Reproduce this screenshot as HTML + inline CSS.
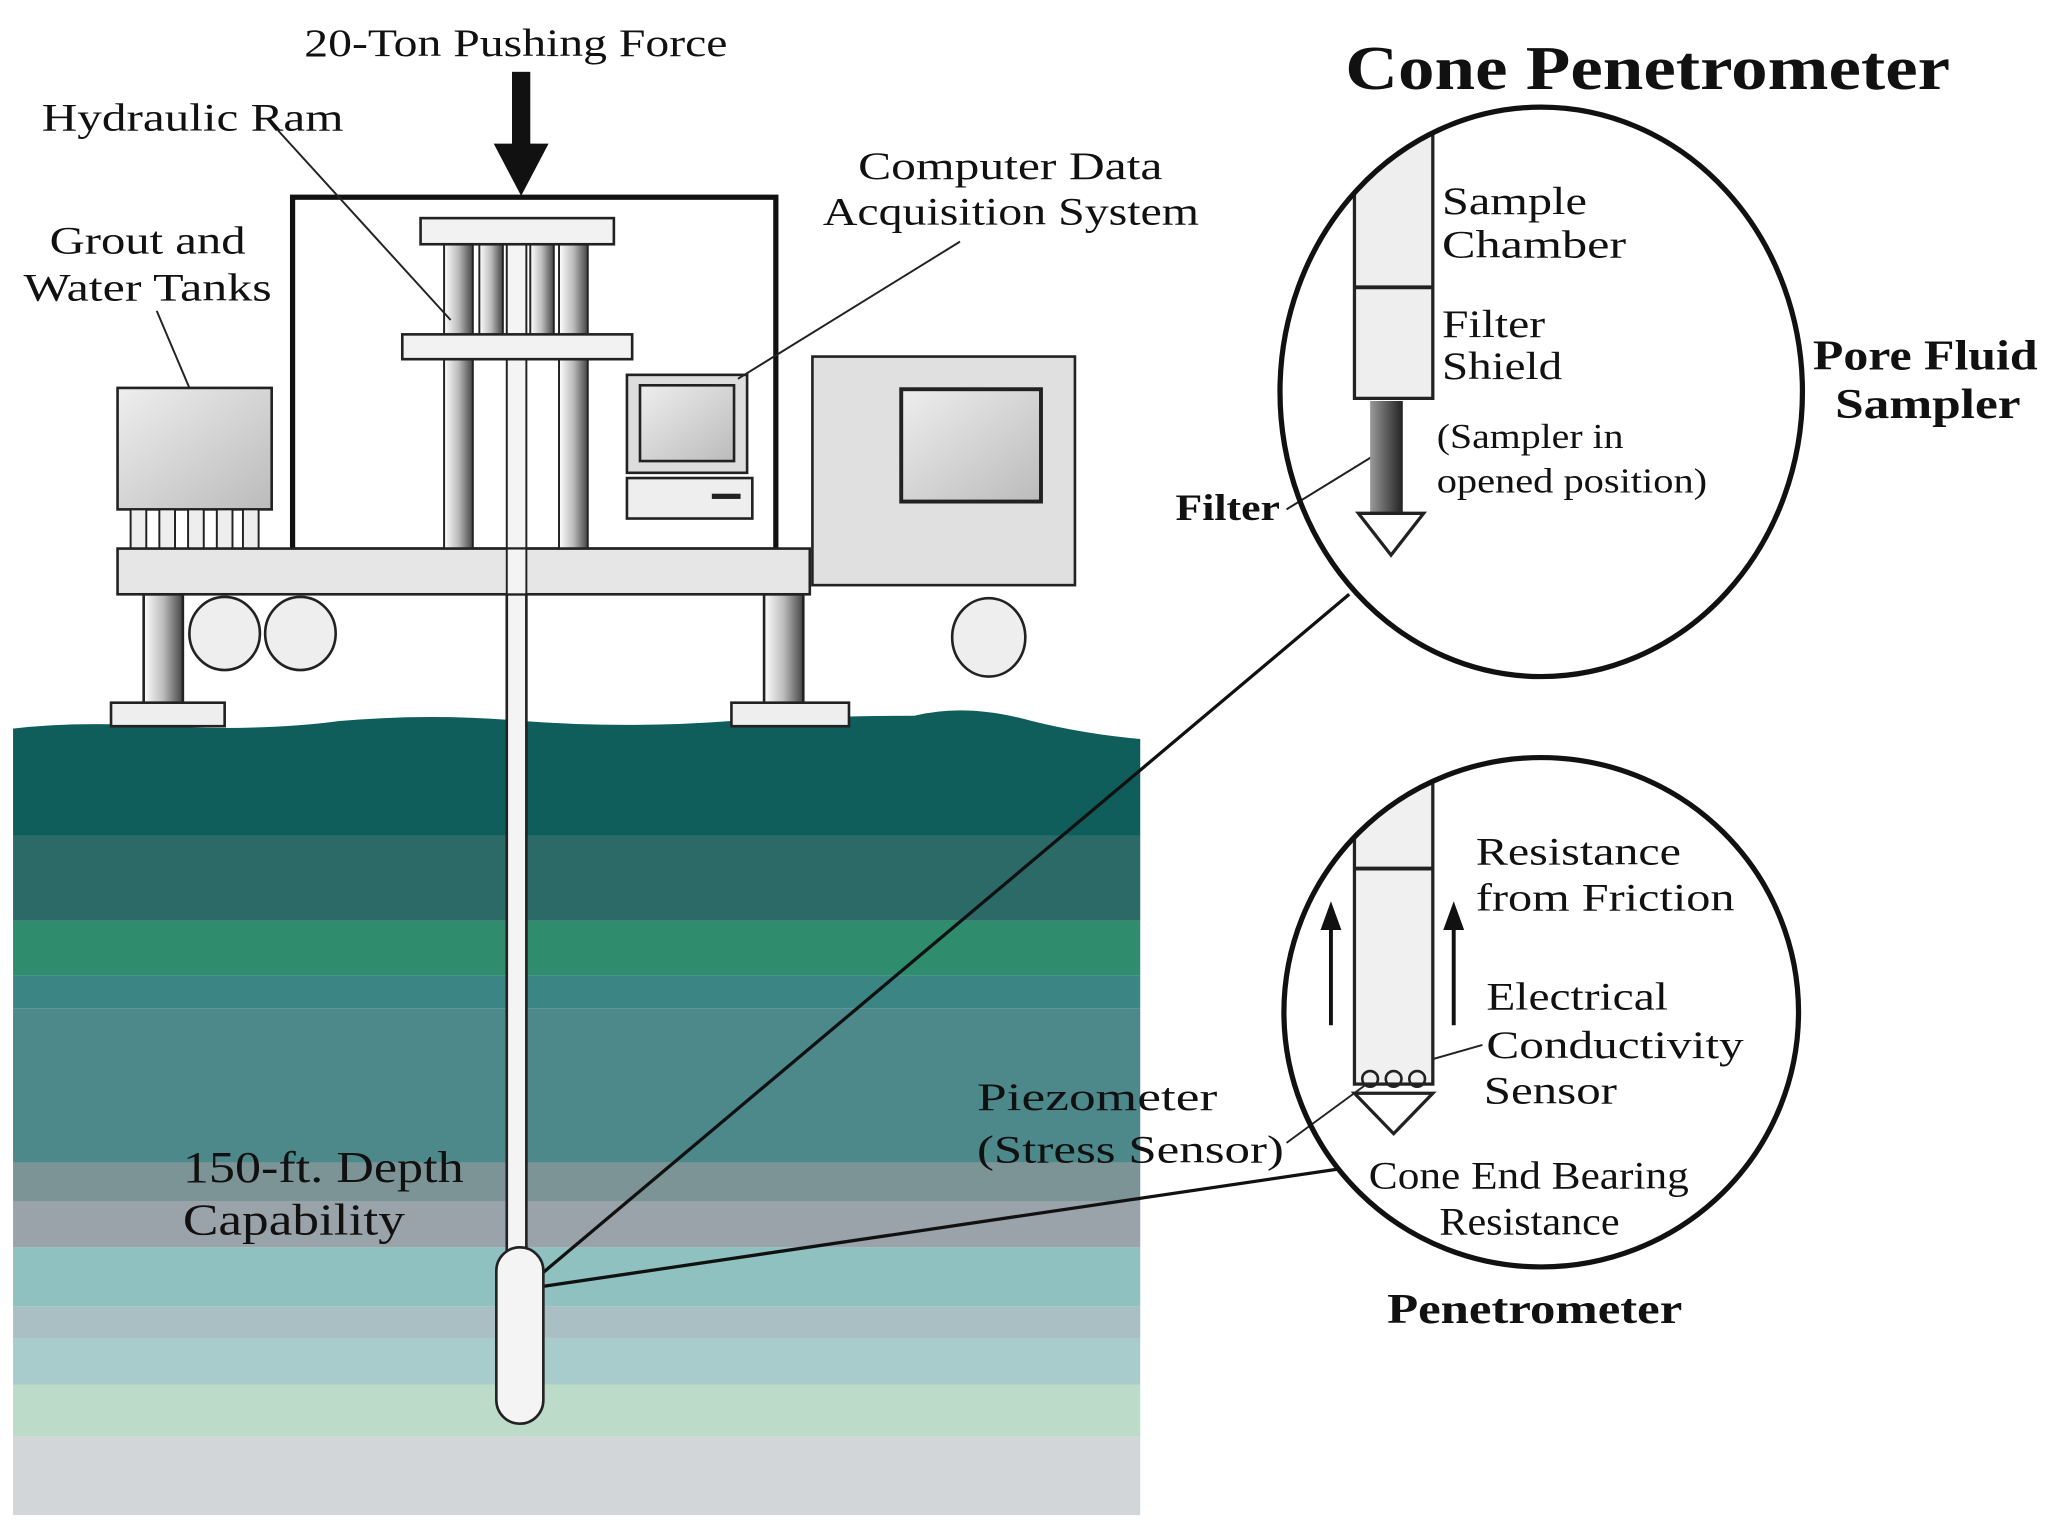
<!DOCTYPE html>
<html><head><meta charset="utf-8"><style>
html,body{margin:0;padding:0;background:#fff;width:2048px;height:1536px;overflow:hidden}
svg{display:block}
text{font-family:"Liberation Serif",serif;fill:#111}
</style></head><body>
<svg width="2048" height="1536" viewBox="0 0 1568 1176" preserveAspectRatio="none">
<defs>
<linearGradient id="g1" x1="0" x2="1"><stop offset="0" stop-color="#fff"/><stop offset="0.5" stop-color="#bbb"/><stop offset="1" stop-color="#444"/></linearGradient>
<linearGradient id="g2" x1="0" x2="1"><stop offset="0" stop-color="#999"/><stop offset="1" stop-color="#222"/></linearGradient>
<linearGradient id="gb" x1="0" y1="0" x2="1" y2="1"><stop offset="0" stop-color="#eee"/><stop offset="1" stop-color="#bbb"/></linearGradient>
</defs>
<g>
<rect x="10" y="540" width="863" height="100" fill="#0f5e5b"/>
<rect x="10" y="640" width="863" height="65" fill="#2b6a66"/>
<rect x="10" y="705" width="863" height="42" fill="#2f8c6d"/>
<rect x="10" y="747" width="863" height="25" fill="#3b8584"/>
<rect x="10" y="772" width="863" height="118" fill="#4d898b"/>
<rect x="10" y="890" width="863" height="30" fill="#7d9497"/>
<rect x="10" y="920" width="863" height="35" fill="#9aa3aa"/>
<rect x="10" y="955" width="863" height="45" fill="#8ec1c0"/>
<rect x="10" y="1000" width="863" height="25" fill="#a9bfc4"/>
<rect x="10" y="1025" width="863" height="35" fill="#a7cccb"/>
<rect x="10" y="1060" width="863" height="40" fill="#bcdcc9"/>
<rect x="10" y="1100" width="863" height="60" fill="#d3d6d8"/>
<path d="M8 535 L8 558 Q60 552 120 556 Q200 560 260 552 Q330 546 400 552 Q480 558 560 552 Q640 548 700 548 Q740 538 790 552 Q830 562 875 566 L875 535 Z" fill="#fff"/>
</g>
<line x1="415" y1="975" x2="1033" y2="455" stroke="#111" stroke-width="2.5"/>
<line x1="415" y1="985" x2="1025" y2="895" stroke="#111" stroke-width="2.5"/>
<rect x="388" y="455" width="15" height="510" fill="#f4f4f4" stroke="#222" stroke-width="2"/>
<rect x="380" y="955" width="36" height="135" rx="18" fill="#f4f4f4" stroke="#222" stroke-width="2"/>
<rect x="110" y="455" width="30" height="85" fill="url(#g1)" stroke="#222" stroke-width="2"/>
<rect x="85" y="538" width="87" height="18" fill="#eee" stroke="#222" stroke-width="2"/>
<rect x="585" y="455" width="30" height="85" fill="url(#g1)" stroke="#222" stroke-width="2"/>
<rect x="560" y="538" width="90" height="18" fill="#eee" stroke="#222" stroke-width="2"/>
<ellipse cx="172" cy="485" rx="27" ry="28" fill="#eee" stroke="#222" stroke-width="2"/>
<ellipse cx="230" cy="485" rx="27" ry="28" fill="#eee" stroke="#222" stroke-width="2"/>
<ellipse cx="757" cy="488" rx="28" ry="30" fill="#eee" stroke="#222" stroke-width="2"/>
<rect x="622" y="273" width="201" height="175" fill="#e0e0e0" stroke="#222" stroke-width="2"/>
<rect x="690" y="298" width="107" height="86" fill="url(#gb)" stroke="#222" stroke-width="3"/>
<rect x="224" y="151" width="370" height="270" fill="#fff" stroke="#111" stroke-width="4"/>
<rect x="340" y="187" width="22" height="233" fill="url(#g1)" stroke="#222" stroke-width="1.5"/>
<rect x="428" y="187" width="22" height="233" fill="url(#g1)" stroke="#222" stroke-width="1.5"/>
<rect x="367" y="187" width="18" height="70" fill="url(#g1)" stroke="#222" stroke-width="1.5"/>
<rect x="406" y="187" width="18" height="70" fill="url(#g1)" stroke="#222" stroke-width="1.5"/>
<rect x="388" y="187" width="15" height="233" fill="#f4f4f4" stroke="#222" stroke-width="1.5"/>
<rect x="322" y="167" width="148" height="20" fill="#f2f2f2" stroke="#222" stroke-width="2"/>
<rect x="308" y="256" width="176" height="19" fill="#f2f2f2" stroke="#222" stroke-width="2"/>
<rect x="480" y="287" width="92" height="75" fill="#ddd" stroke="#222" stroke-width="2"/>
<rect x="490" y="295" width="72" height="58" fill="url(#gb)" stroke="#222" stroke-width="2"/>
<rect x="480" y="366" width="96" height="31" fill="#eee" stroke="#222" stroke-width="2"/>
<rect x="545" y="378" width="22" height="4" fill="#222"/>
<rect x="90" y="297" width="118" height="93" fill="url(#gb)" stroke="#222" stroke-width="2"/>
<g fill="#eee" stroke="#222" stroke-width="1.5">
<rect x="100" y="390" width="12" height="30"/><rect x="122" y="390" width="12" height="30"/><rect x="144" y="390" width="12" height="30"/><rect x="166" y="390" width="12" height="30"/><rect x="186" y="390" width="12" height="30"/>
</g>
<rect x="90" y="420" width="530" height="35" fill="#e6e6e6" stroke="#222" stroke-width="2"/>
<rect x="388" y="420" width="15" height="35" fill="#f4f4f4" stroke="#222" stroke-width="1.5"/>
<rect x="392" y="55" width="14" height="60" fill="#111"/>
<polygon points="378,110 420,110 399,150" fill="#111"/>
<g stroke="#222" stroke-width="1.5" fill="none">
<line x1="213" y1="100" x2="345" y2="245"/>
<line x1="120" y1="238" x2="145" y2="297"/>
<line x1="735" y1="185" x2="565" y2="290"/>
<line x1="985" y1="390" x2="1050" y2="350"/>
<line x1="985" y1="875" x2="1060" y2="820"/>
<line x1="1065" y1="820" x2="1135" y2="800"/>
</g>
<g font-size="30" lengthAdjust="spacingAndGlyphs">
<text x="233" y="43" textLength="324" lengthAdjust="spacingAndGlyphs">20-Ton Pushing Force</text>
<text x="32" y="100" textLength="231" lengthAdjust="spacingAndGlyphs">Hydraulic Ram</text>
<text x="38" y="194" textLength="150" lengthAdjust="spacingAndGlyphs">Grout and</text>
<text x="18" y="230" textLength="190" lengthAdjust="spacingAndGlyphs">Water Tanks</text>
<text x="657" y="137" textLength="233" lengthAdjust="spacingAndGlyphs">Computer Data</text>
<text x="630" y="172" textLength="288" lengthAdjust="spacingAndGlyphs">Acquisition System</text>
</g>
<text x="1030" y="68" font-size="48" font-weight="bold" textLength="463" lengthAdjust="spacingAndGlyphs">Cone Penetrometer</text>
<!-- top circle -->
<clipPath id="c1"><ellipse cx="1180" cy="300" rx="200" ry="218"/></clipPath>
<g clip-path="url(#c1)">
<rect x="1037" y="80" width="60" height="225" fill="#eee" stroke="#222" stroke-width="2.5"/>
<line x1="1037" y1="220" x2="1097" y2="220" stroke="#222" stroke-width="3"/>
</g>
<ellipse cx="1180" cy="300" rx="200" ry="218" fill="none" stroke="#111" stroke-width="4"/>
<rect x="1049" y="307" width="25" height="85" fill="url(#g2)"/>
<polygon points="1040,393 1090,393 1065,425" fill="#fff" stroke="#222" stroke-width="2.5"/>
<g font-size="30">
<text x="1104" y="164" textLength="111" lengthAdjust="spacingAndGlyphs">Sample</text>
<text x="1104" y="197" textLength="141" lengthAdjust="spacingAndGlyphs">Chamber</text>
<text x="1104" y="258" textLength="79" lengthAdjust="spacingAndGlyphs">Filter</text>
<text x="1104" y="290" textLength="92" lengthAdjust="spacingAndGlyphs">Shield</text>
<text x="900" y="398" font-weight="bold" font-size="28" textLength="80" lengthAdjust="spacingAndGlyphs">Filter</text>
</g>
<g font-size="27"><text x="1100" y="343" textLength="143" lengthAdjust="spacingAndGlyphs">(Sampler in</text><text x="1100" y="377" textLength="207" lengthAdjust="spacingAndGlyphs">opened position)</text></g>
<g font-size="32" font-weight="bold"><text x="1388" y="283" textLength="172" lengthAdjust="spacingAndGlyphs">Pore Fluid</text><text x="1405" y="320" textLength="142" lengthAdjust="spacingAndGlyphs">Sampler</text></g>
<!-- bottom circle -->
<clipPath id="c2"><ellipse cx="1180" cy="775" rx="197" ry="195"/></clipPath>
<g clip-path="url(#c2)">
<rect x="1037" y="560" width="60" height="270" fill="#f0f0f0" stroke="#222" stroke-width="2.5"/>
<line x1="1037" y1="665" x2="1097" y2="665" stroke="#222" stroke-width="3"/>
</g>
<ellipse cx="1180" cy="775" rx="197" ry="195" fill="none" stroke="#111" stroke-width="4"/>
<g fill="none" stroke="#222" stroke-width="2"><circle cx="1049" cy="826" r="6"/><circle cx="1067" cy="826" r="6"/><circle cx="1085" cy="826" r="6"/></g>
<polygon points="1037,837 1097,837 1067,868" fill="#fff" stroke="#222" stroke-width="2.5"/>
<line x1="1019" y1="785" x2="1019" y2="705" stroke="#111" stroke-width="3"/>
<polygon points="1011,712 1027,712 1019,690" fill="#111"/>
<line x1="1113" y1="785" x2="1113" y2="705" stroke="#111" stroke-width="3"/>
<polygon points="1105,712 1121,712 1113,690" fill="#111"/>
<g font-size="30">
<text x="1130" y="662" textLength="157" lengthAdjust="spacingAndGlyphs">Resistance</text>
<text x="1130" y="697" textLength="198" lengthAdjust="spacingAndGlyphs">from Friction</text>
<text x="1138" y="773" textLength="139" lengthAdjust="spacingAndGlyphs">Electrical</text>
<text x="1138" y="810" textLength="197" lengthAdjust="spacingAndGlyphs">Conductivity</text>
<text x="1136" y="845" textLength="102" lengthAdjust="spacingAndGlyphs">Sensor</text>
<text x="1048" y="910" textLength="245" lengthAdjust="spacingAndGlyphs">Cone End Bearing</text>
<text x="1102" y="945" textLength="138" lengthAdjust="spacingAndGlyphs">Resistance</text>
<text x="748" y="850" textLength="184" lengthAdjust="spacingAndGlyphs">Piezometer</text>
<text x="748" y="890" textLength="235" lengthAdjust="spacingAndGlyphs">(Stress Sensor)</text>
<text x="140" y="905" font-size="34" textLength="215" lengthAdjust="spacingAndGlyphs">150-ft. Depth</text>
<text x="140" y="945" font-size="34" textLength="170" lengthAdjust="spacingAndGlyphs">Capability</text>
</g>
<text x="1062" y="1013" font-size="32" font-weight="bold" textLength="226" lengthAdjust="spacingAndGlyphs">Penetrometer</text>
</svg>
</body></html>
